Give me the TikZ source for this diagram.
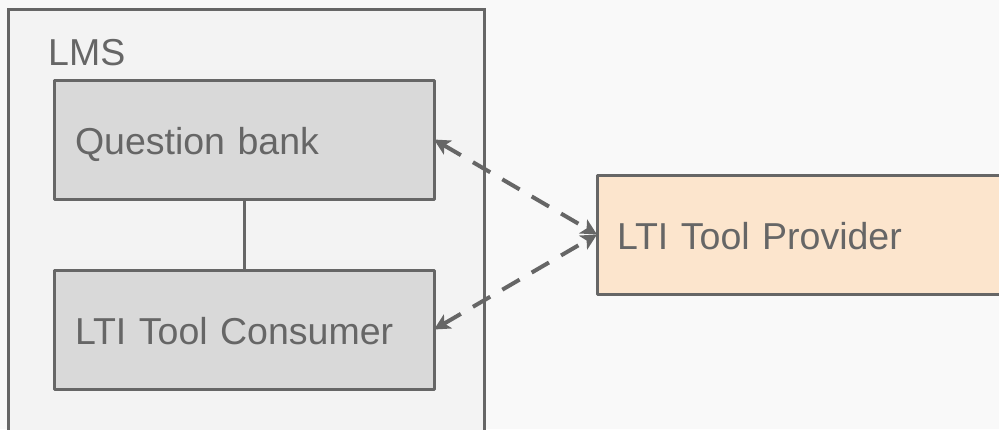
\documentclass[tikz,border=0pt]{standalone}
\usepackage{fontspec}
\setmainfont{Liberation Sans}
\usetikzlibrary{arrows.meta}
\definecolor{bg}{HTML}{F9F9F9}
\definecolor{ln}{HTML}{666666}
\definecolor{lmsfill}{HTML}{F3F3F3}
\definecolor{boxfill}{HTML}{D9D9D9}
\definecolor{provfill}{HTML}{FCE5CD}
\begin{document}
\begin{tikzpicture}[x=1pt,y=-1pt,
  lbl/.style={font=\fontsize{37.5}{44}\selectfont, text=ln, inner sep=0pt},
  container/.style={draw=ln, line width=3pt, fill=lmsfill, minimum width=476pt, minimum height=440pt, anchor=north west, outer sep=0pt, inner sep=0pt},
  box/.style={draw=ln, line width=3pt, fill=boxfill, minimum width=380pt, minimum height=119pt, text width=338pt, align=left, inner xsep=21pt, inner ysep=0pt, text height=30pt, text depth=0pt, font=\fontsize{37.5}{44}\selectfont, text=ln, anchor=north west, outer sep=0pt, line join=round},
  prov/.style={box, fill=provfill, minimum width=430pt, text width=390pt, inner xsep=20pt},
  link/.style={draw=ln, line width=3pt},
  dlink/.style={draw=ln, line width=4pt, dash pattern=on 20pt off 14pt, {Stealth[length=16pt,width=16pt,inset=4pt]}-{Stealth[length=16pt,width=16pt,inset=4pt]}}
]
\useasboundingbox (0,0) rectangle (999,429);
\clip (0,0) rectangle (999,429);
\fill[bg] (0,0) rectangle (999,429);
\node[container] (lms) at (8,9) {};
\node[lbl, anchor=base west] (lmslabel) at (48,65) {LMS};
\node[box] (qb) at (54,80) {Question bank};
\node[box] (tc) at (54,270) {LTI Tool Consumer};
\node[prov] (tp) at (597,175) {LTI Tool Provider};
\draw[link] (qb.south) -- (tc.north);
\draw[dlink] (qb.east) -- (tp.west);
\draw[dlink] (tc.east) -- (tp.west);
\end{tikzpicture}
\end{document}
